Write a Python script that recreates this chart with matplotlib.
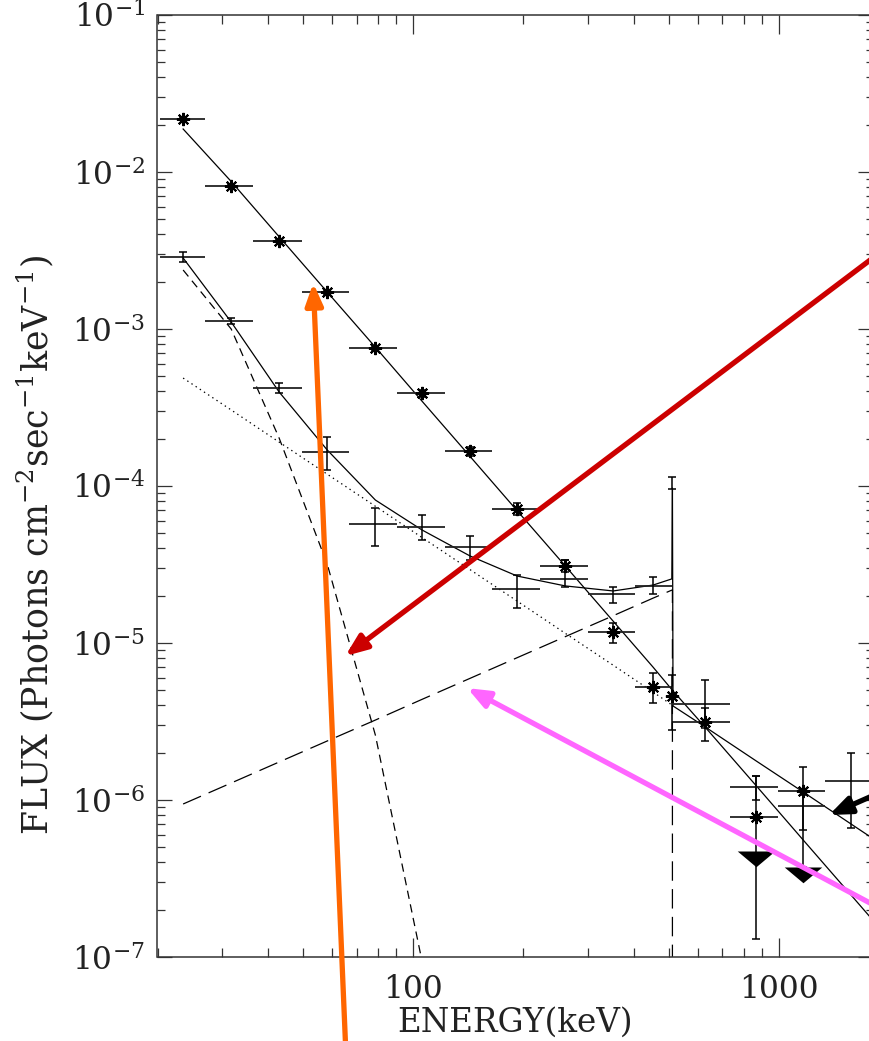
import matplotlib
matplotlib.use("Agg")
import matplotlib.pyplot as plt
from matplotlib.path import Path
from matplotlib.patches import FancyArrowPatch
from matplotlib.ticker import FixedLocator, FixedFormatter, NullFormatter

plt.rcParams['font.family'] = ['DejaVu Serif']
plt.rcParams['mathtext.fontset'] = 'dejavuserif'
plt.rcParams['lines.scale_dashes'] = False

# ---- measured spectra -------------------------------------------------------
# bin centres and bin edges (keV)
energy = [23.5, 31.8, 43.0, 58.2, 78.8, 105.8, 143.1, 192.3, 260.2, 352.0,
          452.6, 511.0, 628.0, 866.0, 1163.0, 1573.0]
e_lo = [20.3, 27.0, 36.5, 49.7, 66.9, 90.4, 122.3, 164.4, 222.3, 300.6,
        404.3, 511.0, 511.0, 734.7, 993.8, 1336.0]
e_hi = [27.0, 36.5, 49.7, 66.9, 90.4, 122.3, 164.4, 222.3, 300.6, 404.3,
        511.0, 511.0, 734.7, 993.8, 1336.0, 1853.0]

# bright state (asterisks), first 15 bins
flux_a = [2.18e-2, 8.14e-3, 3.64e-3, 1.72e-3, 7.57e-4, 3.91e-4, 1.67e-4,
          7.14e-5, 3.09e-5, 1.175e-5, 5.24e-6, 4.60e-6, 3.14e-6, 7.79e-7, 1.141e-6]
flux_a_hi = [2.22e-2, 8.30e-3, 3.71e-3, 1.76e-3, 7.75e-4, 4.09e-4, 1.772e-4,
             7.79e-5, 3.38e-5, 1.341e-5, 6.44e-6, 6.25e-6, 3.86e-6, 1.422e-6, 1.623e-6]
flux_a_lo = [2.14e-2, 7.98e-3, 3.57e-3, 1.68e-3, 7.40e-4, 3.69e-4, 1.553e-4,
             6.54e-5, 2.83e-5, 1.00e-5, 4.15e-6, 2.79e-6, 2.38e-6, 1.302e-7, 6.44e-7]

# faint state (crosses), all 16 bins
flux_b = [2.874e-3, 1.125e-3, 4.21e-4, 1.646e-4, 5.73e-5, 5.48e-5, 4.09e-5,
          2.21e-5, 2.56e-5, 2.05e-5, 2.31e-5, 1.045e-4, 4.09e-6, 1.210e-6,
          9.16e-7, 1.321e-6]
flux_b_hi = [3.093e-3, 1.175e-3, 4.53e-4, 2.051e-4, 7.24e-5, 6.54e-5, 4.80e-5,
             2.71e-5, 3.38e-5, 2.27e-5, 2.63e-5, 1.141e-4, 5.81e-6, 1.422e-6,
             1.076e-6, 1.993e-6]
flux_b_lo = [2.672e-3, 1.076e-3, 3.91e-4, 1.264e-4, 4.15e-5, 4.53e-5, 3.38e-5,
             1.671e-5, 2.27e-5, 1.80e-5, 2.05e-5, 9.57e-5, 2.87e-6, 1.00e-6,
             3.74e-7, 6.63e-7]

# 2-sigma upper limits
ul_energy = [866.0, 1163.0]
ul_flux = [4.73e-7, 3.74e-7]

# ---- model curves -----------------------------------------------------------
model_energy = [23.5, 31.8, 43.0, 58.2, 78.8, 105.8, 143.1, 192.3, 260.2, 352.0,
                452.6, 511.0, 628.0, 866.0, 1163.0, 1573.0, 2128.0]
model_bright = [1.879e-2, 8.70e-3, 3.87e-3, 1.72e-3, 7.66e-4, 3.46e-4, 1.54e-4,
                6.96e-5, 3.10e-5, 1.377e-5, 7.01e-6, 5.00e-6, 2.91e-6, 1.232e-6,
                5.57e-7, 2.48e-7, 1.10e-7]

total_energy = [23.5, 31.8, 43.0, 58.2, 78.8, 105.8, 143.1, 192.3, 260.2, 352.0,
                452.6, 509.0, 511.0, 513.0, 628.0, 866.0, 1163.0, 1573.0, 2128.0]
model_total = [2.833e-3, 1.108e-3, 3.97e-4, 1.696e-4, 8.14e-5, 5.24e-5, 3.58e-5,
               2.67e-5, 2.31e-5, 2.145e-5, 2.34e-5, 2.56e-5, 9.71e-5, 3.97e-6,
               2.92e-6, 1.772e-6, 1.125e-6, 7.03e-7, 4.40e-7]

pl_energy = [23.5, 31.8, 43.0, 58.2, 78.8, 105.8, 143.1, 192.3, 260.2, 352.0,
             452.6, 511.0]
model_powerlaw = [4.87e-4, 3.05e-4, 1.904e-4, 1.189e-4, 7.43e-5, 4.69e-5, 2.93e-5,
                  1.849e-5, 1.154e-5, 7.22e-6, 4.87e-6, 4.01e-6]
model_positronium = [9.43e-7, 1.283e-6, 1.746e-6, 2.376e-6, 3.23e-6, 4.38e-6,
                     5.96e-6, 8.06e-6, 1.097e-5, 1.492e-5, 1.932e-5, 2.18e-5]

soft_energy = [23.5, 31.8, 43.0, 58.2, 78.8, 105.8]
model_soft = [2.376e-3, 1.0e-3, 2.02e-4, 3.18e-5, 2.59e-6, 9.29e-8]

# ---- annotation arrows: tail and head in (energy, flux), colour
arrow_tail_e = [65.4, 1888.0, 1888.0, 1888.0]
arrow_tail_f = [2.56e-8, 3.07e-3, 2.04e-7, 1.117e-6]
arrow_head_e = [53.3, 65.2, 140.5, 1369.0]
arrow_head_f = [1.963e-3, 8.26e-6, 5.16e-6, 8.02e-7]
arrow_colors = ['#ff6600', '#cc0000', '#ff66ff', '#000000']

# ---- axis ticks
x_major = [100, 1000]
x_major_labels = ['100', '1000']
y_decades = [-7, -6, -5, -4, -3, -2, -1]

YMIN, YMAX = 1e-7, 1e-1

fig = plt.figure(figsize=(8.7, 10.41), dpi=100)
ax = fig.add_axes([157.5 / 870, 84 / 1041, 715 / 870, 942 / 1041])
ax.set_xscale('log')
ax.set_yscale('log')
ax.set_xlim(20, 1800)
ax.set_ylim(YMIN, YMAX)

lw_model = 0.9
# model curves
ax.plot(model_energy, model_bright, color='black', lw=lw_model)
ax.plot(total_energy, model_total, color='black', lw=lw_model)
ax.plot(pl_energy, model_powerlaw, color='black', lw=lw_model, ls=(0, (1.0, 2.6)))
ax.plot(soft_energy, model_soft, color='black', lw=lw_model, ls=(0, (6, 4)))
ax.plot(pl_energy + [pl_energy[-1]], model_positronium + [YMIN * 0.5],
        color='black', lw=lw_model, ls=(0, (14, 6)))

# data: horizontal bin widths, vertical errors, markers
ebar_kw = dict(fmt='none', ecolor='black', elinewidth=1.1, capsize=2.6, capthick=1.1)
n_a = len(flux_a)
ax.hlines(flux_a, e_lo[:n_a], e_hi[:n_a], color='#222222', lw=1.3)
ax.errorbar(energy[:n_a], flux_a,
            yerr=[[f - l for f, l in zip(flux_a, flux_a_lo)],
                  [h - f for f, h in zip(flux_a, flux_a_hi)]], **ebar_kw)
ax.plot(energy[:n_a], flux_a, ls='none', marker=(8, 2, 0), ms=9.5, mew=1.5,
        color='black')

ax.hlines(flux_b, e_lo, e_hi, color='#222222', lw=1.3)
ax.errorbar(energy, flux_b,
            yerr=[[f - l for f, l in zip(flux_b, flux_b_lo)],
                  [h - f for f, h in zip(flux_b, flux_b_hi)]], **ebar_kw)

# upper limits as wide filled down-triangles hanging below the limit
ul_marker = Path([(-1, 0), (1, 0), (0, -0.84), (-1, 0)],
                 [Path.MOVETO, Path.LINETO, Path.LINETO, Path.CLOSEPOLY])
ax.plot(ul_energy, ul_flux, ls='none', marker=ul_marker, ms=27, color='black',
        mew=0)

# axes styling
for side in ['left', 'right', 'top', 'bottom']:
    ax.spines[side].set_color('#333333')
    ax.spines[side].set_linewidth(1.1)

ax.xaxis.set_major_locator(FixedLocator(x_major))
ax.xaxis.set_major_formatter(FixedFormatter(x_major_labels))
x_minor = [m * 10 ** d for d in (1, 2, 3) for m in range(2, 10)
           if 20 <= m * 10 ** d <= 1800 and m * 10 ** d not in x_major]
ax.xaxis.set_minor_locator(FixedLocator(x_minor))
ax.xaxis.set_minor_formatter(NullFormatter())

ax.yaxis.set_major_locator(FixedLocator([10.0 ** d for d in y_decades]))
ax.yaxis.set_major_formatter(FixedFormatter(
    [r'$\mathdefault{10^{%d}}$' % d for d in y_decades]))
y_minor = [m * 10.0 ** d for d in y_decades[:-1] for m in range(2, 10)]
ax.yaxis.set_minor_locator(FixedLocator(y_minor))
ax.yaxis.set_minor_formatter(NullFormatter())

ax.tick_params(axis='both', which='both', direction='in', top=True, right=True,
               color='#333333', width=0.9, labelsize=22.5, labelcolor='#222222')
ax.tick_params(axis='x', which='major', length=13.5, pad=12)
ax.tick_params(axis='x', which='minor', length=6.5)
ax.tick_params(axis='y', which='major', length=10.8, pad=9)
ax.tick_params(axis='y', which='minor', length=5.4)

ax.set_xlabel('ENERGY(keV)', fontsize=23.5, color='#222222', va='center')
ax.xaxis.set_label_coords(0.5, -(1023 - 957) / 942)
ax.set_ylabel(r'FLUX (Photons cm$^{-2}$sec$^{-1}$keV$^{-1}$)', fontsize=25,
              color='#222222', va='center')
ax.yaxis.set_label_coords((35 - 157.5) / 715, (957 - 545) / 942)

# annotation arrows
for te, tf, he, hf, c in zip(arrow_tail_e, arrow_tail_f, arrow_head_e,
                              arrow_head_f, arrow_colors):
    arrow = FancyArrowPatch((te, tf), (he, hf),
                            arrowstyle='-|>,head_length=13,head_width=5.2',
                            lw=3.8, color=c, shrinkA=0, shrinkB=0,
                            transform=ax.transData, clip_on=False, zorder=10)
    ax.add_patch(arrow)

fig.savefig('out.png', dpi=100)
